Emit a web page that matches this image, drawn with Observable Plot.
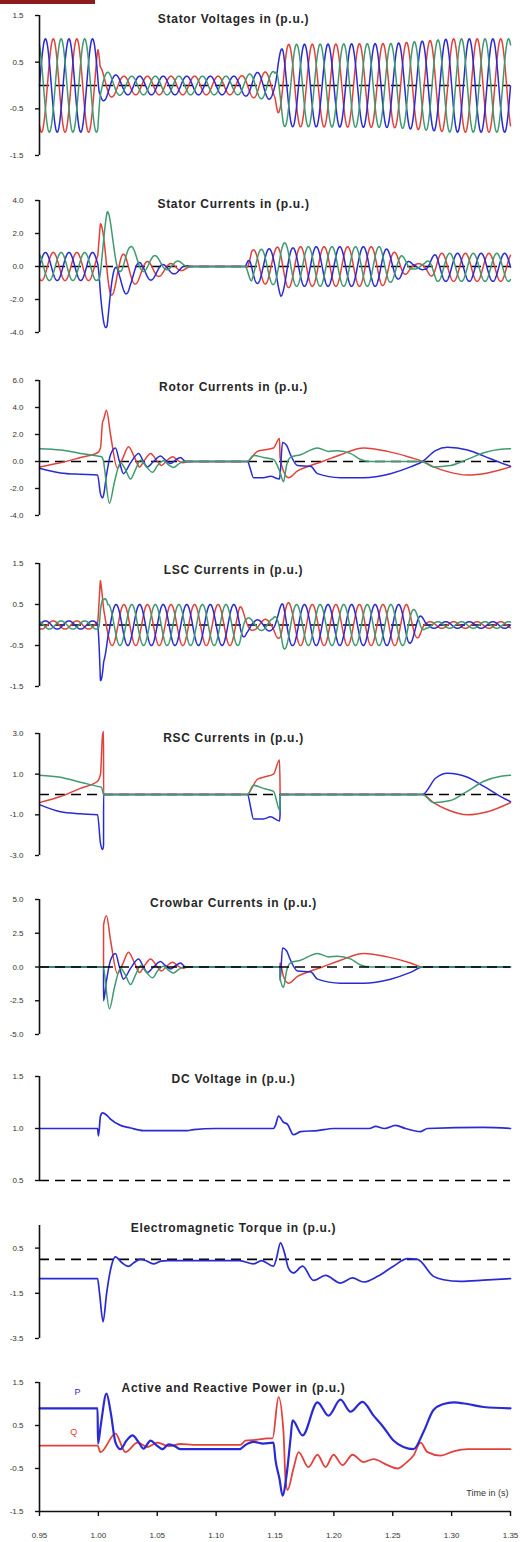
<!DOCTYPE html>
<html><head><meta charset="utf-8">
<script src="https://cdn.jsdelivr.net/npm/d3@7"></script>
<script src="https://cdn.jsdelivr.net/npm/@observablehq/plot@0.6"></script>
<style>
body{margin:0;background:#fff;}
#chart{position:relative;width:523px;height:1542px;overflow:hidden;font-family:"Liberation Sans",Arial,sans-serif;background:#fff;}
#chart svg{position:absolute;left:0;overflow:visible;}
#corner{position:absolute;left:0;top:0;width:95px;height:4px;background:#8c1c1c;}
</style></head><body><div id="chart"><div id="corner"></div></div>
<script>
// ---------- DATA ----------
const gridFrequencyHz = 50;
const timeTicks = [0.95, 1.00, 1.05, 1.10, 1.15, 1.20, 1.25, 1.30, 1.35];

// Stator voltages: envelope of the three-phase 50 Hz waveform
const svT   = [0.95, 0.9995, 1.0015, 1.005, 1.012, 1.02, 1.12, 1.135, 1.15, 1.1525, 1.157, 1.25, 1.3, 1.35];
const svAmp = [1.0, 1.0, 0.4, 0.32, 0.24, 0.2, 0.2, 0.28, 0.3, 0.6, 0.88, 0.9, 1.0, 1.0];
const svPhaseT = [0.95];
const svPhaseRef = [1.0017];

// Stator currents: envelope and per-phase offsets
const scT   = [0.95, 0.9995, 1.0017, 1.0075, 1.012, 1.018, 1.027, 1.037, 1.046, 1.057, 1.067, 1.075, 1.08, 1.125, 1.13, 1.15, 1.155, 1.16, 1.168, 1.24, 1.257, 1.267, 1.277, 1.287, 1.35];
const scAmp = [0.85, 0.85, 2.0, 2.2, 1.6, 1.2, 0.85, 0.6, 0.5, 0.35, 0.25, 0.1, 0, 0, 1.0, 1.1, 1.3, 1.3, 1.2, 1.2, 0.7, 0.15, 0.2, 0.85, 0.85];
const scOffRed   = [0, 0, 0.6, 0.2, -0.1, -0.3, -0.35, -0.3, -0.2, -0.15, -0.1, -0.05, 0, 0, 0, 0, 0, 0, 0, 0, 0, 0, 0, -0.05, -0.05];
const scOffGreen = [0, 0, 0.6, 1.2, 1.1, 0.9, 0.4, 0.3, 0.2, 0.15, 0.1, 0.05, 0, 0, 0, 0, 0.2, 0.1, 0, 0, 0, 0, 0, -0.05, -0.05];
const scOffBlue  = [0, 0, -0.6, -2.0, -1.6, -1.3, -0.45, -0.4, -0.3, -0.25, -0.15, -0.05, 0, 0, 0, 0, -0.5, -0.3, 0, 0, 0, 0, 0, -0.05, -0.05];
const scPhaseT = [0.95, 1.1];
const scPhaseRef = [1.0017, 1.0117];

// LSC currents: envelope and per-phase offsets
const lscT   = [0.95, 0.9995, 1.0017, 1.0045, 1.008, 1.12, 1.126, 1.132, 1.148, 1.153, 1.157, 1.165, 1.262, 1.272, 1.278, 1.35];
const lscAmp = [0.1, 0.1, 1.1, 0.6, 0.5, 0.5, 0.2, 0.12, 0.15, 0.35, 0.6, 0.5, 0.5, 0.3, 0.08, 0.08];
const lscOffGreen = [0, 0, 0.9, 0.4, 0, 0, 0, 0, 0, 0, 0, 0, 0, 0, 0, 0];
const lscOffBlue  = [0, 0, -0.8, -0.3, 0, 0, 0, 0, 0, 0, 0, 0, 0, 0, 0, 0];
const lscPhaseT = [0.95];
const lscPhaseRef = [1.0017];

// Rotor currents [time s, value p.u.]
const rotorRed = [[0.95,-0.4],[0.9678,-0.1],[0.9848,0.3],[0.9993,0.65],[1.0018,1.0],[1.0035,2.9],[1.0044,3.1],[1.0069,3.8],[1.0103,2.0],[1.0162,-0.5],[1.0205,0.2],[1.0256,1.1],[1.0307,0.3],[1.0349,-0.4],[1.0392,0.1],[1.0443,0.6],[1.0494,0.1],[1.0536,-0.3],[1.0579,0.05],[1.0630,0.35],[1.0680,0.05],[1.0723,-0.1],[1.0757,0],[1.1267,0],[1.1292,0.2],[1.1351,0.75],[1.1402,0.85],[1.1487,1.0],[1.1538,1.7],[1.1543,0.3],[1.1572,-0.7],[1.1615,-1.2],[1.1691,-0.7],[1.1802,-0.3],[1.1903,0.0],[1.2056,0.5],[1.2252,1.0],[1.2455,0.75],[1.2651,0.3],[1.2753,0.0],[1.2846,-0.4],[1.2965,-0.75],[1.3135,-1.0],[1.3305,-0.85],[1.35,-0.4]];
const rotorGreen = [[0.95,0.95],[0.9678,0.85],[0.9848,0.6],[0.9993,0.4],[1.0027,0.35],[1.0044,0.0],[1.0052,-0.5],[1.0094,-3.1],[1.0137,-1.5],[1.0188,-0.1],[1.0230,-0.6],[1.0273,-1.3],[1.0315,-0.6],[1.0358,0.1],[1.0409,-0.4],[1.0460,-0.8],[1.0502,-0.3],[1.0553,0.05],[1.0596,-0.25],[1.0638,-0.45],[1.0680,-0.2],[1.0723,0.0],[1.0757,0],[1.1267,0],[1.1317,0.45],[1.1402,0.3],[1.1487,0.15],[1.1543,-0.8],[1.1572,-1.5],[1.1598,-0.3],[1.1632,0.3],[1.1717,0.5],[1.1861,1.0],[1.1954,0.75],[1.2031,0.8],[1.2141,0.6],[1.2226,0.15],[1.2311,0.0],[1.2753,0.0],[1.2846,-0.4],[1.2990,-0.3],[1.3118,0.1],[1.3274,0.65],[1.3418,0.9],[1.35,0.95]];
const rotorBlue = [[0.95,-0.5],[0.9678,-0.85],[0.9848,-0.95],[0.9993,-1.0],[1.0018,-2.4],[1.0035,-2.7],[1.0044,-2.5],[1.0069,-1.0],[1.0103,0.5],[1.0145,1.0],[1.0179,0.0],[1.0213,-0.9],[1.0273,-0.1],[1.0341,0.6],[1.0383,0.0],[1.0417,-0.4],[1.0468,0.0],[1.0528,0.4],[1.0570,0.1],[1.0613,-0.15],[1.0655,0.1],[1.0697,0.3],[1.0740,0.0],[1.0757,0],[1.1267,0],[1.1292,-0.6],[1.1317,-1.2],[1.1402,-1.2],[1.1462,-1.1],[1.1538,-1.3],[1.1543,-1.0],[1.1564,1.4],[1.1598,1.2],[1.1632,0.5],[1.1691,-0.3],[1.1802,-0.35],[1.1861,-0.9],[1.2056,-1.2],[1.2252,-1.2],[1.2481,-0.9],[1.2651,-0.4],[1.2753,0.0],[1.2863,0.8],[1.2965,1.05],[1.3135,0.85],[1.3274,0.4],[1.3418,-0.1],[1.35,-0.35]];
// crowbar conduction intervals [on, off]
const crowbarOn = [[1.0044, 1.0757], [1.1543, 1.2753]];

// DC voltage [time, p.u.]
const dcVoltage = [[0.95,1.0],[0.9993,1.0],[1.0001,0.93],[1.0018,1.12],[1.0035,1.15],[1.0069,1.13],[1.0103,1.09],[1.0188,1.03],[1.0273,1.005],[1.0383,0.98],[1.0757,0.98],[1.0808,0.99],[1.0995,1.0],[1.1487,1.0],[1.1504,1.03],[1.1530,1.12],[1.1572,1.06],[1.1606,1.04],[1.1657,0.94],[1.1717,0.97],[1.1861,0.98],[1.1997,1.0],[1.2301,1.0],[1.2354,1.02],[1.2430,1.0],[1.2524,1.03],[1.2608,1.0],[1.2736,0.97],[1.2795,1.0],[1.3271,1.01],[1.35,1.0]];

// Electromagnetic torque [time, p.u.]
const torque = [[0.95,-0.85],[0.9993,-0.85],[1.0010,-1.5],[1.0040,-2.76],[1.0070,-1.5],[1.0110,-0.3],[1.0145,0.11],[1.0200,-0.15],[1.0256,-0.31],[1.0300,-0.15],[1.0358,0.0],[1.0400,-0.05],[1.0468,-0.2],[1.0530,-0.08],[1.0587,-0.05],[1.1200,-0.05],[1.1317,-0.2],[1.1385,-0.05],[1.1487,-0.3],[1.1510,0.0],[1.1547,0.73],[1.1580,0.3],[1.1615,-0.4],[1.1657,-0.6],[1.1734,-0.3],[1.1827,-0.93],[1.1929,-0.71],[1.2056,-1.05],[1.2158,-0.82],[1.2252,-1.0],[1.2371,-0.75],[1.2506,-0.3],[1.2625,0.03],[1.2710,0.0],[1.2846,-0.75],[1.2931,-0.9],[1.3075,-0.97],[1.3271,-0.92],[1.35,-0.85]];

// Active power P and reactive power Q [time, p.u.]
const activeP = [[0.95,0.9],[0.9993,0.9],[0.9997,0.08],[1.0020,0.5],[1.0069,1.24],[1.0105,0.8],[1.0145,0.11],[1.0188,-0.05],[1.0239,0.15],[1.0290,0.27],[1.0340,0.12],[1.0383,-0.04],[1.0443,0.15],[1.0494,0.04],[1.0545,-0.05],[1.0596,0.06],[1.0650,0.02],[1.0697,-0.05],[1.1200,-0.05],[1.1250,0.05],[1.1317,0.12],[1.1400,0.08],[1.1487,0.1],[1.1504,-0.3],[1.1538,-0.74],[1.1564,-1.13],[1.1598,-0.66],[1.1632,0.2],[1.1649,0.62],[1.1734,0.27],[1.1861,1.04],[1.1954,0.73],[1.2056,1.1],[1.2141,0.82],[1.2243,1.05],[1.2337,0.73],[1.2421,0.46],[1.2506,0.15],[1.2591,0.0],[1.2676,-0.05],[1.2761,0.35],[1.2846,0.86],[1.2931,1.0],[1.3016,1.04],[1.3135,1.0],[1.3271,0.93],[1.35,0.9]];
const reactiveQ = [[0.95,0.03],[0.9993,0.03],[1.0018,-0.12],[1.0145,0.31],[1.0230,-0.12],[1.0332,0.1],[1.0417,0.0],[1.0502,0.1],[1.0596,0.02],[1.0697,0.07],[1.0808,0.05],[1.1207,0.05],[1.1249,0.15],[1.1351,0.17],[1.1436,0.2],[1.1479,0.2],[1.1530,1.16],[1.1572,0.35],[1.1589,-0.74],[1.1606,-1.0],[1.1657,-0.5],[1.1700,-0.12],[1.1784,-0.47],[1.1861,-0.18],[1.1929,-0.47],[1.1997,-0.18],[1.2073,-0.42],[1.2158,-0.18],[1.2252,-0.35],[1.2337,-0.28],[1.2455,-0.42],[1.2540,-0.5],[1.2608,-0.38],[1.2676,-0.2],[1.2736,0.1],[1.2795,-0.12],[1.2906,-0.2],[1.3016,-0.1],[1.3135,-0.05],[1.35,-0.05]];
const pqLabels = [{label: "P", t: 0.9823, v: 1.27}, {label: "Q", t: 0.979, v: 0.34}];

// ---------- BUILD ----------
const RED = "#e2413b", GREEN = "#3f9a70", BLUE = "#2a2ad4";
const FONT = '"Liberation Sans", Arial, sans-serif';
const SAMPLE = d3.range(0, 2001).map(i => 0.95 + i * 0.0002);
const EPS = 0.00002;

function phaseWave(T, amp, off, phaseT, phaseRef, k) {
  const A = d3.scaleLinear(T, amp).clamp(true);
  const D = off ? d3.scaleLinear(T, off).clamp(true) : () => 0;
  return SAMPLE.map(t => {
    let ref = phaseRef[0];
    for (let i = 0; i < phaseT.length; i++) if (t >= phaseT[i]) ref = phaseRef[i];
    return [t, A(t) * Math.cos(2 * Math.PI * gridFrequencyHz * (t - ref) - k * 2 * Math.PI / 3) + D(t)];
  });
}
// rotor-side converter carries the rotor current while the crowbar is off
function rscPart(pts) {
  const out = [];
  for (const p of pts) {
    const t = p[0];
    if (crowbarOn.some(([a, b]) => t > a && t < b)) continue;
    if (crowbarOn.some(([a]) => t === a)) { out.push(p, [t + EPS, 0]); continue; }
    if (crowbarOn.some(([, b]) => t === b)) { out.push([t - EPS, 0], p); continue; }
    out.push(p);
  }
  return out;
}
// crowbar carries the rotor current while it is on
function crowbarPart(pts) {
  const out = [[0.95, 0]];
  for (const [a, b] of crowbarOn) {
    out.push([a - EPS, 0]);
    for (const p of pts) if (p[0] >= a && p[0] <= b) out.push(p);
    out.push([b + EPS, 0]);
  }
  out.push([1.35, 0]);
  return out;
}
const X = d => d[0], Y = d => d[1];
function lines(r, g, b, curve = "linear", w = 1.5) {
  return [
    Plot.line(r, {x: X, y: Y, stroke: RED, strokeWidth: w, curve}),
    Plot.line(b, {x: X, y: Y, stroke: BLUE, strokeWidth: w, curve}),
    Plot.line(g, {x: X, y: Y, stroke: GREEN, strokeWidth: w, curve})
  ];
}
const dash = v => Plot.ruleY([v], {stroke: "#000", strokeWidth: 1.7, strokeDasharray: "10,6"});

function panel({top, bottom, mb = 8, domain, ticks, title, titleDy, marks, extra = []}) {
  const mt = 12;
  const svg = Plot.plot({
    width: 523, height: (bottom - top) + mt + mb,
    marginLeft: 39, marginRight: 13, marginTop: mt, marginBottom: mb,
    x: {domain: [0.95, 1.35], axis: null},
    y: {domain, axis: null},
    style: {background: "transparent", fontFamily: FONT, overflow: "visible"},
    marks: [
      ...marks,
      Plot.ruleX([0.95], {stroke: "#111", strokeWidth: 1.6}),
      Plot.axisY(ticks, {label: null, tickSize: 4, tickPadding: 12, tickFormat: d => d.toFixed(1), fontSize: 8, strokeWidth: 1.4, stroke: "#111", fill: "#333"}),
      Plot.text([title], {text: d => d, frameAnchor: "top-left", dx: 194, dy: titleDy, textAnchor: "middle", lineAnchor: "middle", fontWeight: "bold", fontSize: 12, fill: "#262626"}),
      ...extra
    ]
  });
  svg.querySelectorAll("text").forEach(t => { if (t.textContent === title) t.setAttribute("letter-spacing", "0.7"); });
  svg.style.top = (top - mt) + "px";
  document.getElementById("chart").append(svg);
}

// 1 Stator voltages
panel({top: 15, bottom: 155, domain: [-1.5, 1.5], ticks: [1.5, 0.5, -0.5, -1.5], title: "Stator Voltages in (p.u.)", titleDy: 4,
  marks: [dash(0), ...lines(
    phaseWave(svT, svAmp, null, svPhaseT, svPhaseRef, 0),
    phaseWave(svT, svAmp, null, svPhaseT, svPhaseRef, 1),
    phaseWave(svT, svAmp, null, svPhaseT, svPhaseRef, 2))]});

// 2 Stator currents
panel({top: 200, bottom: 332, domain: [-4, 4], ticks: [4, 2, 0, -2, -4], title: "Stator Currents in (p.u.)", titleDy: 4,
  marks: [dash(0), ...lines(
    phaseWave(scT, scAmp, scOffRed, scPhaseT, scPhaseRef, 0),
    phaseWave(scT, scAmp, scOffGreen, scPhaseT, scPhaseRef, 1),
    phaseWave(scT, scAmp, scOffBlue, scPhaseT, scPhaseRef, 2))]});

// 3 Rotor currents
panel({top: 380, bottom: 515, domain: [-4, 6], ticks: [6, 4, 2, 0, -2, -4], title: "Rotor Currents in (p.u.)", titleDy: 7,
  marks: [dash(0), ...lines(rotorRed, rotorGreen, rotorBlue, "monotone-x")]});

// 4 LSC currents
panel({top: 563, bottom: 686, domain: [-1.5, 1.5], ticks: [1.5, 0.5, -0.5, -1.5], title: "LSC Currents in (p.u.)", titleDy: 7,
  marks: [dash(0), ...lines(
    phaseWave(lscT, lscAmp, null, lscPhaseT, lscPhaseRef, 0),
    phaseWave(lscT, lscAmp, lscOffGreen, lscPhaseT, lscPhaseRef, 1),
    phaseWave(lscT, lscAmp, lscOffBlue, lscPhaseT, lscPhaseRef, 2))]});

// 5 RSC currents
panel({top: 733, bottom: 855, domain: [-3, 3], ticks: [3, 1, -1, -3], title: "RSC Currents in (p.u.)", titleDy: 5,
  marks: [dash(0), ...lines(rscPart(rotorRed), rscPart(rotorGreen), rscPart(rotorBlue), "monotone-x")]});

// 6 Crowbar currents
panel({top: 899, bottom: 1034, domain: [-5, 5], ticks: [5, 2.5, 0, -2.5, -5], title: "Crowbar Currents in (p.u.)", titleDy: 4,
  marks: [...lines(crowbarPart(rotorRed), crowbarPart(rotorGreen), crowbarPart(rotorBlue), "monotone-x"), dash(0)]});

// 7 DC voltage
panel({top: 1076, bottom: 1180, domain: [0.5, 1.5], ticks: [1.5, 1.0, 0.5], title: "DC Voltage in (p.u.)", titleDy: 3,
  marks: [dash(0.5), Plot.line(dcVoltage, {x: X, y: Y, stroke: BLUE, strokeWidth: 1.7, curve: "monotone-x"})]});

// 8 Electromagnetic torque
panel({top: 1225, bottom: 1338, domain: [-3.5, 1.5], ticks: [0.5, -1.5, -3.5], title: "Electromagnetic Torque in (p.u.)", titleDy: 3,
  marks: [dash(0), Plot.line(torque, {x: X, y: Y, stroke: BLUE, strokeWidth: 1.7, curve: "monotone-x"})]});

// 9 Active and reactive power
panel({top: 1382, bottom: 1511, mb: 31, domain: [-1.5, 1.5], ticks: [1.5, 0.5, -0.5, -1.5], title: "Active and Reactive Power in (p.u.)", titleDy: 6,
  marks: [
    Plot.line(reactiveQ, {x: X, y: Y, stroke: RED, strokeWidth: 1.8, curve: "monotone-x"}),
    Plot.line(activeP, {x: X, y: Y, stroke: BLUE, strokeWidth: 2.2, curve: "monotone-x"})
  ],
  extra: [
    Plot.ruleY([-1.5], {stroke: "#111", strokeWidth: 1.6}),
    Plot.axisX(timeTicks, {label: null, tickSize: 5, tickPadding: 16, tickFormat: d => d.toFixed(2), fontSize: 8, strokeWidth: 1.4, stroke: "#111", fill: "#333"}),
    Plot.text(pqLabels.filter(d => d.label === "P"), {x: "t", y: "v", text: "label", fill: BLUE, fontSize: 9}),
    Plot.text(pqLabels.filter(d => d.label === "Q"), {x: "t", y: "v", text: "label", fill: RED, fontSize: 9}),
    Plot.text(["Time in (s)"], {text: d => d, frameAnchor: "bottom-right", dx: -2, dy: -18, textAnchor: "end", lineAnchor: "middle", fontSize: 9, fill: "#333"})
  ]});
</script></body></html>
